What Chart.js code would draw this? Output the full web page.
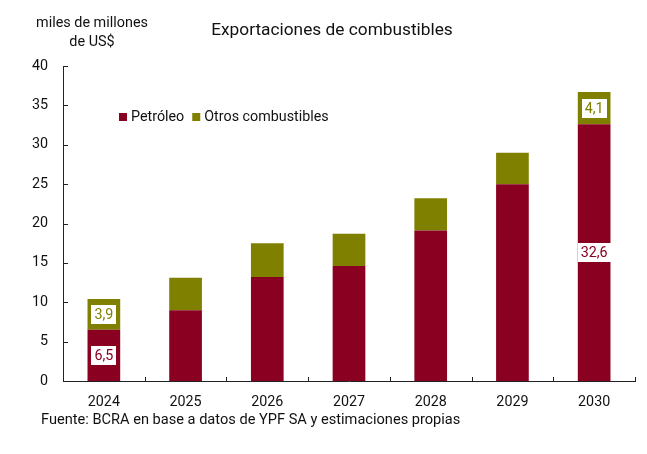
<!DOCTYPE html>
<html>
<head>
<meta charset="utf-8">
<script src="https://cdn.jsdelivr.net/npm/chart.js@4.4.1/dist/chart.umd.min.js"></script>
<style>
html,body{margin:0;padding:0;background:#fff;}
#wrap{width:647px;height:454px;position:relative;}
</style>
</head>
<body>
<div id="wrap"><canvas id="c" width="647" height="454"></canvas></div>
<script>
const categories = ['2024','2025','2026','2027','2028','2029','2030'];
const petroleo = [6.5, 9.0, 13.2, 14.6, 19.1, 25.0, 32.6];
const otros = [3.9, 4.1, 4.3, 4.1, 4.1, 4.0, 4.1];
const seriesNames = ['Petróleo', 'Otros combustibles'];
const labelledIdx = [0, 6];
const yTicks = [0, 5, 10, 15, 20, 25, 30, 35, 40];
const chartTitle = 'Exportaciones de combustibles';
const yTitle = ['miles de millones', 'de US$'];
const footer = 'Fuente: BCRA en base a datos de YPF SA y estimaciones propias';

const RED = '#8a0020';
const OLIVE = '#7f7f00';
const FONT = 'Roboto, "Liberation Sans", sans-serif';

const decorPlugin = {
  id: 'decor',
  afterDraw(chart) {
    const ctx = chart.ctx;
    const x = chart.scales.x, y = chart.scales.y;
    const ca = chart.chartArea;
    ctx.save();
    ctx.strokeStyle = '#222';
    ctx.lineWidth = 1;
    ctx.beginPath();
    y.ticks.forEach(t => {
      const py = Math.round(y.getPixelForValue(t.value)) + 0.5;
      ctx.moveTo(ca.left, py); ctx.lineTo(ca.left + 5, py);
    });
    const n = categories.length;
    const step = x.getPixelForValue(1) - x.getPixelForValue(0);
    for (let i = 0; i < n; i++) {
      const px = Math.round(x.getPixelForValue(i) + step / 2) + 0.5;
      ctx.moveTo(px, ca.bottom); ctx.lineTo(px, ca.bottom - 4);
    }
    ctx.stroke();

    ctx.fillStyle = '#111';
    ctx.textBaseline = 'middle';
    ctx.textAlign = 'center';
    ctx.font = '17.3px ' + FONT;
    ctx.fillText(chartTitle, 332, 31);
    ctx.font = '14.4px ' + FONT;
    ctx.fillText(yTitle[0], 92, 23);
    ctx.fillText(yTitle[1], 92, 42);
    ctx.textAlign = 'left';
    ctx.font = '14.6px ' + FONT;
    ctx.fillText(footer, 41, 420);

    const colors = [RED, OLIVE];
    let lx = 119;
    const ly = 117;
    ctx.font = '14.3px ' + FONT;
    seriesNames.forEach((name, i) => {
      ctx.fillStyle = colors[i];
      ctx.fillRect(lx, ly - 4, 8, 8);
      ctx.fillStyle = '#111';
      ctx.fillText(name, lx + 12, ly);
      lx += 12 + ctx.measureText(name).width + 8;
    });

    ctx.textAlign = 'center';
    ctx.font = '14.3px ' + FONT;
    chart.data.datasets.forEach((ds, di) => {
      const meta = chart.getDatasetMeta(di);
      labelledIdx.forEach(i => {
        const el = meta.data[i];
        const cy = (el.y + el.base) / 2;
        const txt = ds.data[i].toFixed(1).replace('.', ',');
        const w = ctx.measureText(txt).width + 6;
        const h = 19;
        ctx.fillStyle = '#fff';
        ctx.fillRect(Math.round(el.x - w / 2), Math.round(cy - h / 2), Math.round(w), h);
        ctx.fillStyle = di === 0 ? RED : OLIVE;
        ctx.fillText(txt, el.x, cy + 1);
      });
    });
    ctx.restore();
  }
};

new Chart(document.getElementById('c'), {
  type: 'bar',
  data: {
    labels: categories,
    datasets: [
      { label: seriesNames[0], data: petroleo, backgroundColor: RED, barPercentage: 0.4, categoryPercentage: 1.0 },
      { label: seriesNames[1], data: otros, backgroundColor: OLIVE, barPercentage: 0.4, categoryPercentage: 1.0 }
    ]
  },
  options: {
    responsive: false,
    animation: false,
    devicePixelRatio: 1,
    layout: { padding: { left: 0, right: 12, top: 66, bottom: 43 } },
    plugins: { legend: { display: false }, tooltip: { enabled: false }, title: { display: false } },
    scales: {
      x: {
        stacked: true,
        grid: { display: false, drawTicks: false },
        border: { display: true, color: '#222', width: 1 },
        ticks: { color: '#111', font: { family: FONT, size: 14.3 }, padding: 13, maxRotation: 0 },
        afterFit: s => { s.height = 30; }
      },
      y: {
        stacked: true,
        min: 0, max: 40,
        afterBuildTicks: s => { s.ticks = yTicks.map(v => ({ value: v })); },
        grid: { display: false, drawTicks: false },
        border: { display: true, color: '#222', width: 1 },
        ticks: { color: '#111', font: { family: FONT, size: 14.3 }, padding: 15 },
        afterFit: s => { s.width = 63; }
      }
    }
  },
  plugins: [decorPlugin]
});
</script>
</body>
</html>
